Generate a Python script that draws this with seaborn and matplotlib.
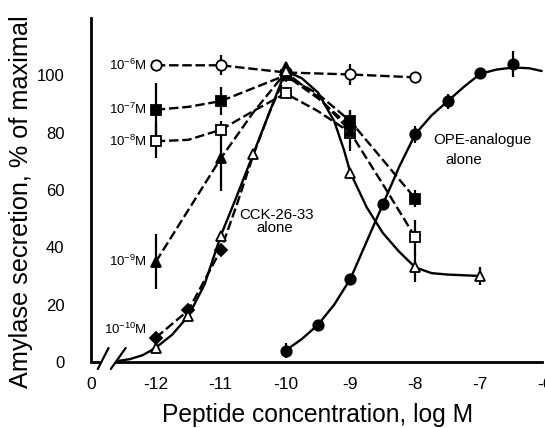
import numpy as np
import pandas as pd
import matplotlib
matplotlib.use("Agg")
import matplotlib.pyplot as plt
import seaborn as sns

# %% data (x = log M, y = % of maximal)
# markers with error bars
p6_x = [-12, -11, -10, -9, -8]
p6_y = [103.5, 103.5, 101, 100.3, 99.3]
p6_e = [0, 3.5, 0, 3.5, 2]
p7_x = [-12, -11, -10, -9, -8]
p7_y = [88, 91, 100, 84, 57]
p7_e = [9.5, 5, 0, 4, 3]
p8_x = [-12, -11, -10, -9, -8]
p8_y = [77, 81, 93.7, 80, 43.5]
p8_e = [6, 3, 0, 0, 6]
p9_x = [-12, -11, -10, -9]
p9_y = [35, 71, 103, 80.5]
p9_e = [9.5, 11.5, 0, 7]
p10_x = [-12, -11.5, -11, -10, -9]
p10_y = [8.5, 18, 39, 100, 82]
p10_e = [0, 0, 0, 0, 0]
cck_x = [-12, -11.5, -11, -10.5, -10, -9, -8, -7]
cck_y = [5, 16, 44, 72.5, 101.5, 66, 33, 30]
cck_e = [0, 0, 0, 0, 0, 0, 5, 3]
ope_x = [-10, -9.5, -9, -8.5, -8, -7.5, -7, -6.5]
ope_y = [4, 13, 29, 55, 79.5, 91, 100.7, 104]
ope_e = [2.5, 0, 0, 0, 3, 2.6, 0, 4.5]

# hand drawn curves
c6_x = p6_x
c6_y = p6_y
c7_x = [-12, -11.5, -11, -10.5, -10, -9.5, -9, -8.5, -8]
c7_y = [88, 89, 91, 95.5, 100, 93.5, 84, 70.5, 57]
c8_x = [-12, -11.5, -11, -10.5, -10, -9.5, -9, -8.5, -8]
c8_y = [77, 77.5, 81, 87.5, 93.7, 87.5, 80, 62, 43.5]
c9_x = [-12, -11.5, -11, -10.5, -10, -9.5, -9]
c9_y = [35, 53, 71, 87, 101, 92.5, 80.5]
c10_x = [-12, -11.5, -11, -10.75, -10.5, -10.25, -10, -9.5, -9]
c10_y = [8.5, 18, 39, 55, 72, 87, 100, 92, 82]
ccc_x = [-12.6, -12.4, -12.2, -12, -11.75, -11.5, -11.25, -11, -10.75, -10.5, -10.25, -10,
         -9.75, -9.5, -9.25, -9.1, -9, -8.75, -8.5, -8.25, -8, -7.75, -7.5, -7]
ccc_y = [0.3, 1, 2.4, 5, 9.5, 16, 27, 44, 58, 72.5, 87, 101.5,
         99, 94, 84, 74, 66, 54, 45, 38.5, 33, 31, 30.5, 30]
oc_x = [-10, -9.75, -9.5, -9.25, -9, -8.75, -8.5, -8.25, -8, -7.75, -7.5, -7.25, -7,
        -6.75, -6.5, -6.25, -6.05]
oc_y = [4, 8, 13, 20, 29, 42, 55, 68, 79.5, 86, 91, 96, 100.5,
        102, 102.7, 102.5, 101.5]

conc_labels = ["10$^{-6}$M", "10$^{-7}$M", "10$^{-8}$M", "10$^{-9}$M", "10$^{-10}$M"]
xtick_pos = [-13, -12, -11, -10, -9, -8, -7, -6]
xtick_lab = ["0", "-12", "-11", "-10", "-9", "-8", "-7", "-6"]
ytick_pos = [0, 20, 40, 60, 80, 100, 120]
ytick_lab = ["0", "20", "40", "60", "80", "100", ""]

# %%
sns.set_style("white")
plt.rcParams["font.family"] = ["Liberation Sans", "DejaVu Sans"]
plt.rcParams["mathtext.default"] = "regular"
for k in ["text.color", "axes.labelcolor", "xtick.color", "ytick.color", "axes.edgecolor"]:
    plt.rcParams[k] = "black"

fig = plt.figure(figsize=(5.45, 4.28), dpi=100, facecolor="white")
ax = fig.add_axes([91 / 545, 66 / 428, 454 / 545, 344 / 428])

dash = (0, (4, 1.6))
series = [
    (c6_x, c6_y, p6_x, p6_y, p6_e, dash, "o", "white", 7.5),
    (c7_x, c7_y, p7_x, p7_y, p7_e, dash, "s", "black", 7),
    (c8_x, c8_y, p8_x, p8_y, p8_e, dash, "s", "white", 7),
    (c9_x, c9_y, p9_x, p9_y, p9_e, dash, "^", "black", 7.5),
    (c10_x, c10_y, p10_x, p10_y, p10_e, dash, "D", "black", 6),
    (ccc_x, ccc_y, cck_x, cck_y, cck_e, "-", "^", "white", 7.5),
    (oc_x, oc_y, ope_x, ope_y, ope_e, "-", "o", "black", 7.5),
]
for cx, cy, px, py, pe, ls, mk, fc, ms in series:
    sns.lineplot(x=cx, y=cy, ax=ax, color="black", linewidth=1.7, linestyle=ls,
                 sort=False, estimator=None, zorder=2)
    ax.errorbar(px, py, yerr=pe, fmt=mk, color="black", mfc=fc, mec="black",
                ms=ms, mew=1.3, elinewidth=1.6, capsize=0, zorder=3)

# labels for the CCK-26-33 concentrations
for lab, yv in zip(conc_labels, [p6_y[0], p7_y[0], p8_y[0], p9_y[0], 11.2]):
    ax.text(-12.14, yv, lab, ha="right", va="center", fontsize=9.5)
ax.text(-10.71, 51.3, "CCK-26-33", ha="left", va="center", fontsize=10.8)
ax.text(-10.45, 46.7, "alone", ha="left", va="center", fontsize=10.8)
ax.text(-7.73, 77.4, "OPE-analogue", ha="left", va="center", fontsize=10.8)
ax.text(-7.53, 70.5, "alone", ha="left", va="center", fontsize=10.8)

ax.set_xlim(-12.985, -6.05)
ax.set_ylim(0, 120)
ax.set_xticks(xtick_pos)
ax.set_xticklabels(xtick_lab)
ax.set_yticks(ytick_pos)
ax.set_yticklabels(ytick_lab)
ax.tick_params(axis="both", direction="in", length=12, width=1.6)
ax.tick_params(axis="x", pad=11, labelsize=12.5)
ax.tick_params(axis="y", pad=19, labelsize=12)
for s in ["top", "right"]:
    ax.spines[s].set_visible(False)
for s in ["left", "bottom"]:
    ax.spines[s].set_linewidth(2)
ax.spines["bottom"].set_bounds(-12.62, -6.05)

# axis break
ax.plot([-12.985, -12.86], [0, 0], color="black", lw=2, clip_on=False, solid_capstyle="butt")
ax.plot([-12.895, -12.73], [-2.44, 4.9], color="black", lw=1.6, clip_on=False)
ax.plot([-12.695, -12.465], [-2.44, 4.9], color="black", lw=1.6, clip_on=False)

ax.set_xlabel("Peptide concentration, log M", fontsize=17.7, labelpad=8)
ax.set_ylabel("Amylase secretion, % of maximal", fontsize=18.2)
ax.yaxis.set_label_coords(-0.128, 0.465)

fig.savefig("out.png", dpi=100, facecolor="white")
